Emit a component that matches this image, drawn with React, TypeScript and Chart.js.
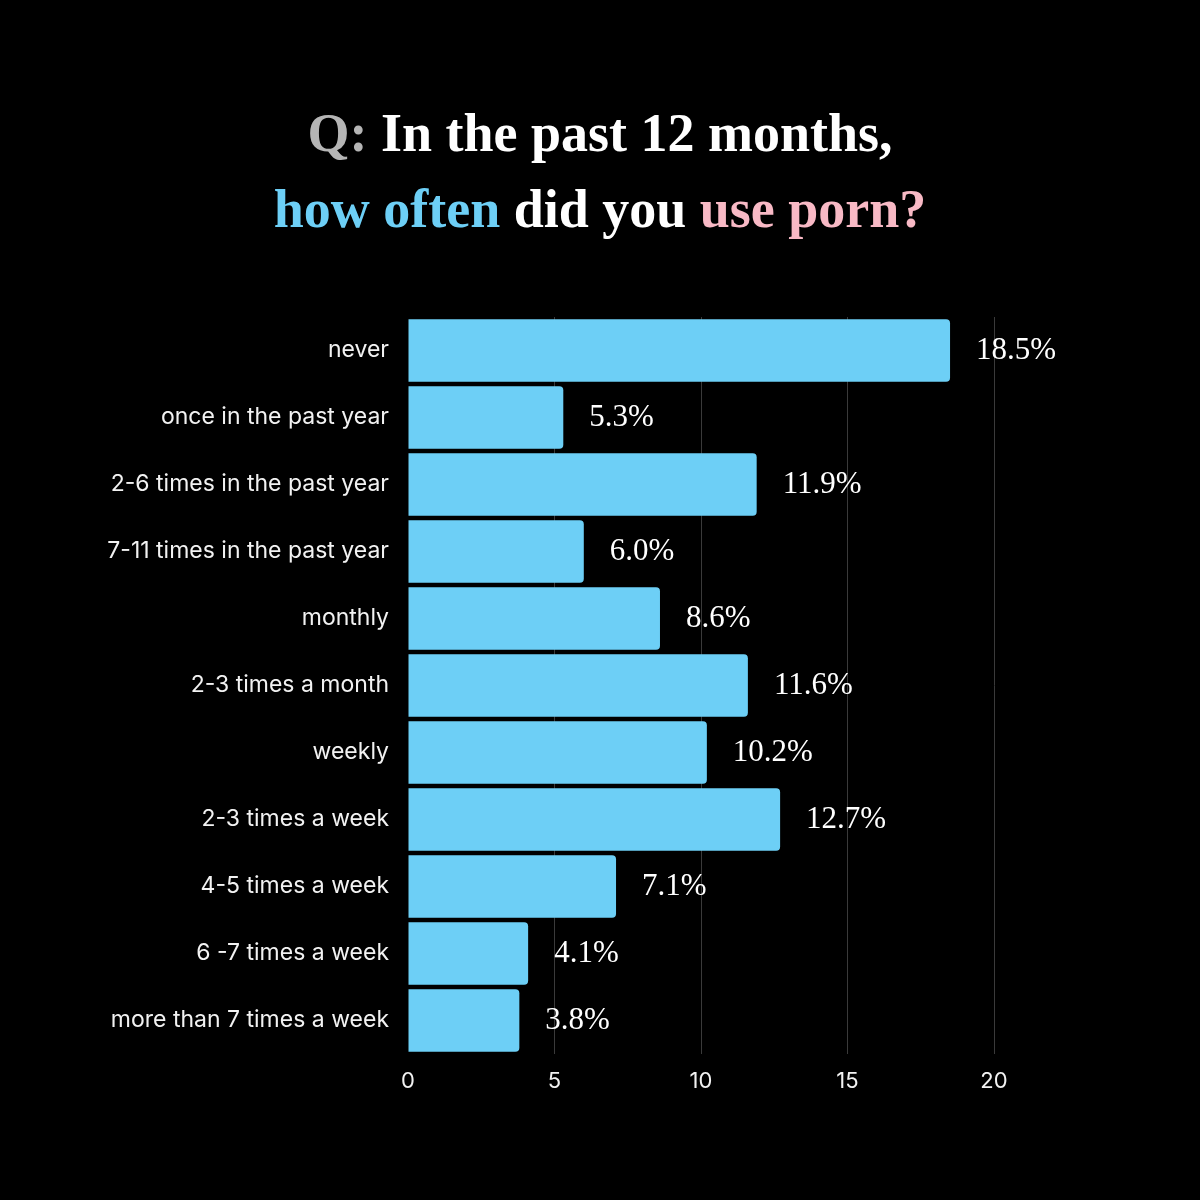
import { useEffect, useRef } from "react"
import { Chart, registerables } from "chart.js"

Chart.register(...registerables)

const categories = [
  "never",
  "once in the past year",
  "2-6 times in the past year",
  "7-11 times in the past year",
  "monthly",
  "2-3 times a month",
  "weekly",
  "2-3 times a week",
  "4-5 times a week",
  "6 -7 times a week",
  "more than 7 times a week",
]
const percentages = [18.5, 5.3, 11.9, 6.0, 8.6, 11.6, 10.2, 12.7, 7.1, 4.1, 3.8]
const xTicks = [0, 5, 10, 15, 20]

const BAR_COLOR = "#6dcff6"
const SERIF = "'Liberation Serif', 'DejaVu Serif', serif"

// draws "18.5%" etc. to the right of each bar
const valueLabels = {
  id: "valueLabels",
  afterDatasetsDraw(chart: Chart) {
    const { ctx } = chart
    const meta = chart.getDatasetMeta(0)
    ctx.save()
    ctx.fillStyle = "#ffffff"
    ctx.font = `31px ${SERIF}`
    ctx.textAlign = "left"
    ctx.textBaseline = "middle"
    meta.data.forEach((bar: any, i) => {
      ctx.fillText(percentages[i].toFixed(1) + "%", bar.x + 26, bar.y)
    })
    ctx.restore()
  },
}

export default function App() {
  const chartRef = useRef<HTMLCanvasElement>(null)
  const chartInstance = useRef<Chart | null>(null)

  useEffect(() => {
    document.body.style.margin = "0"
    document.body.style.background = "#000"
    if (!chartRef.current) return
    if (chartInstance.current) chartInstance.current.destroy()
    const ctx = chartRef.current.getContext("2d")
    if (!ctx) return

    chartInstance.current = new Chart(ctx, {
      type: "bar",
      data: {
        labels: categories,
        datasets: [
          {
            data: percentages,
            backgroundColor: BAR_COLOR,
            borderRadius: 4,
            borderSkipped: "start",
            categoryPercentage: 1,
            barPercentage: 0.93,
          },
        ],
      },
      options: {
        indexAxis: "y",
        responsive: false,
        animation: false,
        layout: { padding: { top: 317, right: 206, bottom: 0, left: 0 } },
        plugins: {
          legend: { display: false },
          tooltip: { enabled: false },
        },
        scales: {
          x: {
            min: 0,
            max: 20,
            afterBuildTicks: (scale: any) => {
              scale.ticks = xTicks.map((v) => ({ value: v }))
            },
            afterFit: (scale: any) => {
              scale.height = 146
            },
            grid: {
              color: (c: any) => (c.tick && c.tick.value === 0 ? "rgba(0,0,0,0)" : "#3a3a3a"),
              lineWidth: 1,
              drawTicks: false,
            },
            border: { display: false },
            ticks: {
              color: "#f2f2f2",
              padding: 14,
              font: { family: "Inter", size: 22 },
            },
          },
          y: {
            afterFit: (scale: any) => {
              scale.width = 408
            },
            grid: { display: false, drawTicks: false },
            border: { display: false },
            ticks: {
              color: "#f2f2f2",
              padding: 19,
              font: { family: "Inter", size: 23 },
            },
          },
        },
      },
      plugins: [valueLabels],
    })

    return () => {
      if (chartInstance.current) {
        chartInstance.current.destroy()
        chartInstance.current = null
      }
    }
  }, [])

  return (
    <div style={{ position: "relative", width: 1200, height: 1200, background: "#000" }}>
      <div
        style={{
          position: "absolute",
          top: 95,
          left: 0,
          width: 1200,
          textAlign: "center",
          fontFamily: SERIF,
          fontWeight: "bold",
          fontSize: 54,
          lineHeight: "76px",
          color: "#ffffff",
        }}
      >
        <div>
          <span style={{ color: "#b5b5b5" }}>Q:</span> In the past 12 months,
        </div>
        <div>
          <span style={{ color: BAR_COLOR }}>how often</span> did you{" "}
          <span style={{ color: "#f8b9c5" }}>use porn?</span>
        </div>
      </div>
      <canvas ref={chartRef} width={1200} height={1200} style={{ position: "absolute", top: 0, left: 0 }} />
    </div>
  )
}
